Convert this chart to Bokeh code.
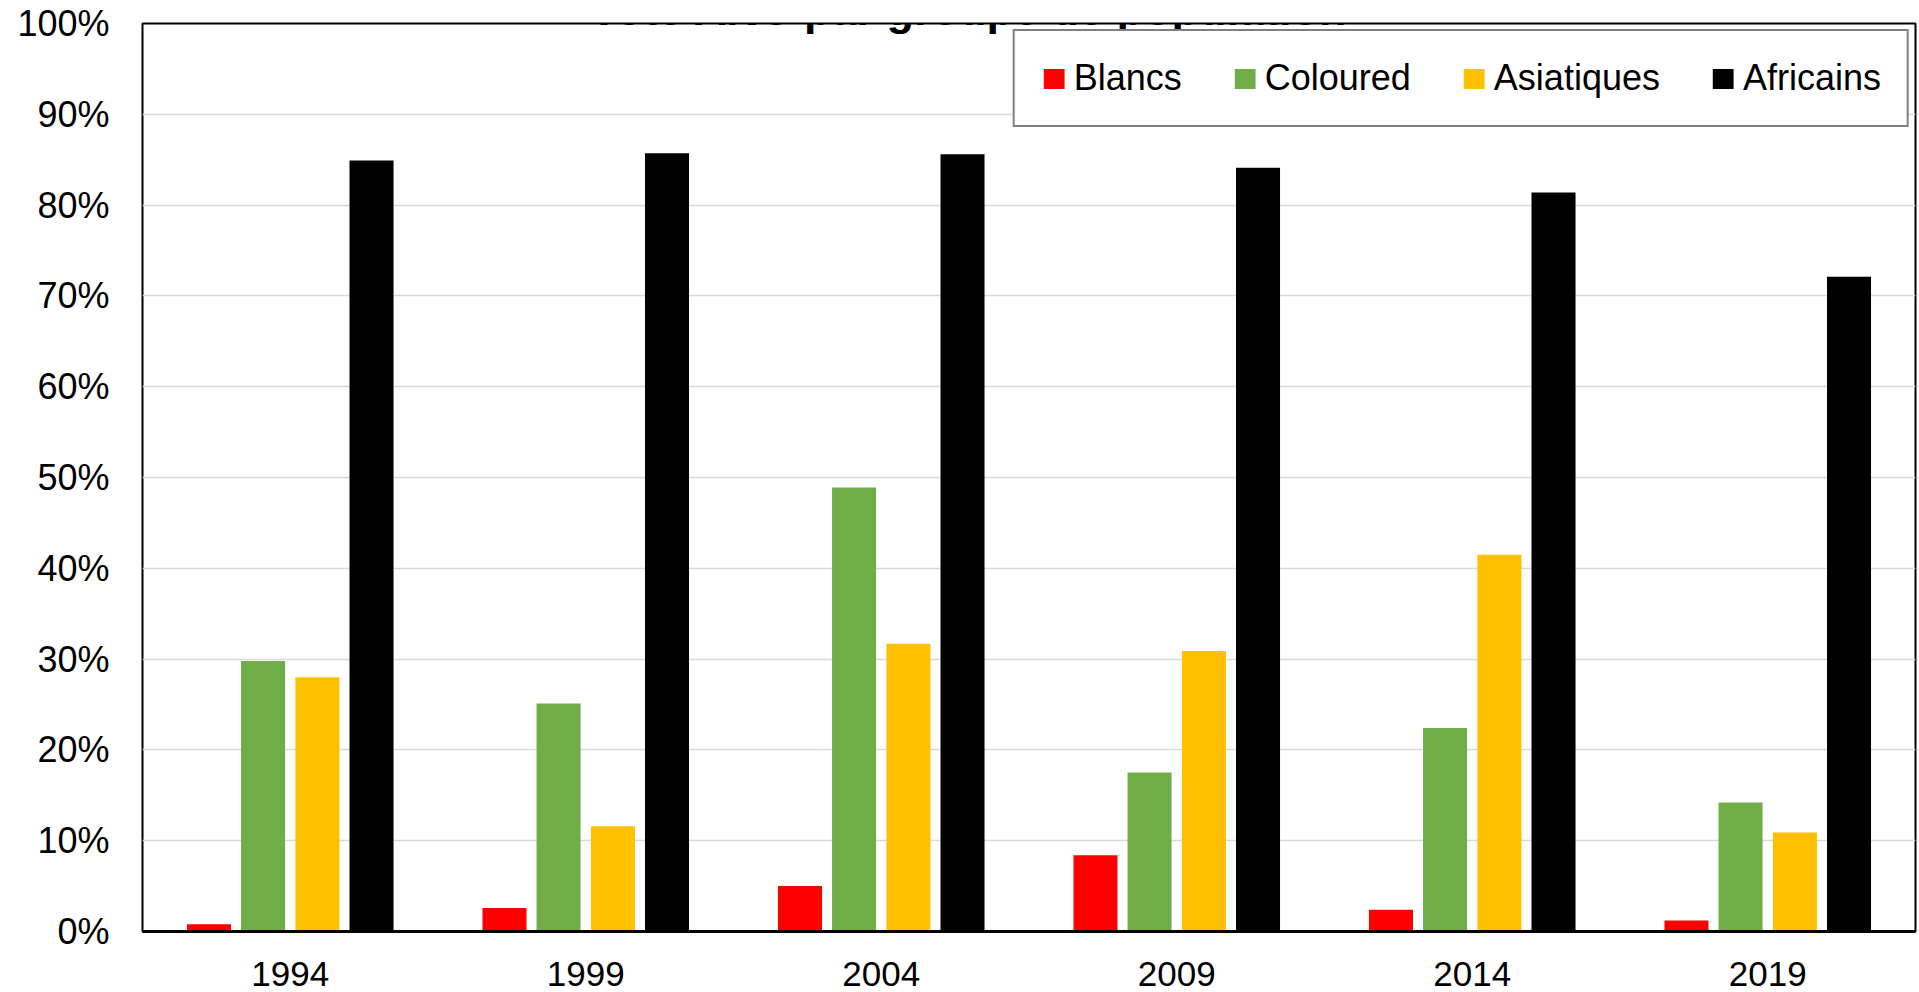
from bokeh.plotting import figure
from bokeh.models import (FactorRange, Range1d, PrintfTickFormatter, Label,
                          FixedTicker, ColumnDataSource)
from bokeh.transform import dodge
from bokeh.embed import file_html
from bokeh.resources import INLINE

# ---- data ----
years = ["1994", "1999", "2004", "2009", "2014", "2019"]
series_names = ["Blancs", "Coloured", "Asiatiques", "Africains"]
blancs = [0.8, 2.6, 5.0, 8.4, 2.4, 1.2]
coloured = [29.8, 25.1, 48.9, 17.5, 22.4, 14.2]
asiatiques = [28.0, 11.6, 31.7, 30.9, 41.5, 10.9]
africains = [84.9, 85.7, 85.6, 84.1, 81.4, 72.1]
y_ticks = [0, 10, 20, 30, 40, 50, 60, 70, 80, 90, 100]
title_text = "Vote ANC par groupe de population"

colors = ["#FF0000", "#70AD47", "#FFC000", "#000000"]
offsets = [-0.275, -0.092, 0.092, 0.275]
FONT = "Liberation Sans"

src = ColumnDataSource(dict(years=years, Blancs=blancs, Coloured=coloured,
                            Asiatiques=asiatiques, Africains=africains))

p = figure(x_range=FactorRange(*years), y_range=Range1d(0, 100),
           width=1917, height=988, output_backend="svg", toolbar_location=None,
           min_border_left=142, min_border_right=2, min_border_top=23,
           min_border_bottom=0)

for name, col, off in zip(series_names, colors, offsets):
    p.vbar(x=dodge("years", off, range=p.x_range), top=name, width=0.149,
           source=src, fill_color=col, line_color=None, legend_label=name)

# axes
p.yaxis.ticker = FixedTicker(ticks=y_ticks)
p.yaxis.formatter = PrintfTickFormatter(format="%d%%")
p.yaxis.axis_line_color = None
p.yaxis.major_tick_line_color = None
p.yaxis.minor_tick_line_color = None
p.yaxis.major_label_standoff = 27
p.yaxis.major_label_text_font = FONT
p.yaxis.major_label_text_font_size = "36px"
p.yaxis.major_label_text_color = "black"

p.xaxis.axis_line_color = "black"
p.xaxis.axis_line_width = 3
p.xaxis.major_tick_line_color = None
p.xaxis.minor_tick_line_color = None
p.xaxis.major_label_standoff = 24
p.xaxis.major_label_text_font = FONT
p.xaxis.major_label_text_font_size = "35px"
p.xaxis.major_label_text_color = "black"

p.xgrid.grid_line_color = None
p.ygrid.grid_line_color = "#d9d9d9"
p.ygrid.grid_line_width = 1.5

p.outline_line_color = "black"
p.outline_line_width = 2

# legend
lg = p.legend[0]
lg.orientation = "horizontal"
lg.location = "top_right"
lg.margin = 6
lg.padding = 26
lg.spacing = 50
lg.glyph_width = 26
lg.glyph_height = 25
lg.label_standoff = 7
lg.label_text_font = FONT
lg.label_text_font_size = "36px"
lg.label_text_color = "black"
lg.border_line_color = "black"
lg.border_line_width = 2
lg.background_fill_color = "white"
lg.background_fill_alpha = 1.0

# title (clipped at the top as in the reference)
p.add_layout(Label(x=826, y=101.5, x_units="screen", y_units="data",
                   text=title_text, text_align="center",
                   text_baseline="alphabetic", text_font=FONT,
                   text_font_size="45px", text_font_style="bold",
                   text_color="black"))

open("out.html", "w").write(file_html(p, INLINE))
